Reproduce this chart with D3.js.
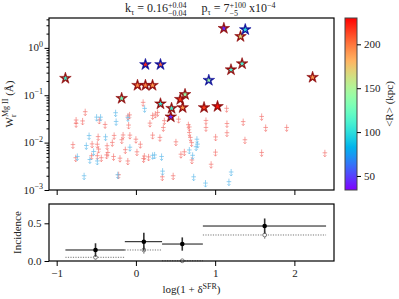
<!DOCTYPE html>
<html>
<head>
<meta charset="utf-8">
<script src="https://cdn.jsdelivr.net/npm/d3@7"></script>
<style>
  body { margin: 0; background: #fff; }
  text { font-family: "Liberation Serif", "DejaVu Serif", serif; fill: #222; white-space: pre; }
</style>
</head>
<body>
<svg id="chart" width="399" height="299"></svg>
<script>
"use strict";

// detections : log(1+delta_SFR), W_r (A), <R> (kpc), edge colour
var starX = [-0.89, -0.18, 0.02, 0.12, 0.21, 0.31, 0.45, 0.44, 0.59, 0.56, 0.62, 0.86, 1.03, 1.11, 1.32, 1.20, 1.34, 2.23, 0.12, 0.31, 1.38, 0.92];
var starW = [0.228, 0.086, 0.162, 0.162, 0.162, 0.066, 0.053, 0.035, 0.055, 0.082, 0.104, 0.055, 0.058, 2.58, 1.74, 0.345, 0.463, 0.239, 0.445, 0.445, 2.43, 0.207];
var starR = [110, 125, 195, 195, 190, 105, 110, 45, 190, 215, 140, 215, 225, 45, 165, 110, 110, 190, 220, 205, 100, 145];
var starEdge = ["r","r","r","r","r","r","r","r","r","r","r","r","r","r","r","r","r","r","b","b","b","b"];

// upper limits
var limRedX = [-0.64, -0.755, -0.755, -0.673, -0.462, -0.389, -0.08, -0.092, 0.091, -0.477, -0.275, -0.162, -0.076, -0.795, -0.553, -0.487, -0.364, -0.298, -0.178, -0.134, 0.0, 0.056, 0.013, -0.471, -0.354, -0.759, -0.559, -0.487, -0.437, -0.37, -0.282, -0.201, -0.102, 0.097, -0.218, 0.211, 0.245, 0.274, 0.177, 0.359, 0.346, 0.539, 0.662, 0.674, 0.884, 0.884, 1.149, 1.149, 0.211, 0.303, 0.505, 0.674, 0.687, 0.703, 1.006, 0.106, 0.16, 0.568, 0.611, 0.707, 0.949, 0.333, 0.47, 1.354, 1.587, 1.638, 1.903, 1.376, 1.004, 1.587, 2.385, 1.145, -0.10];
var limRedW = [0.045, 0.030, 0.0254, 0.0287, 0.030, 0.0242, 0.0385, 0.0235, 0.0708, 0.0134, 0.0142, 0.0145, 0.0144, 0.0091, 0.0094, 0.00925, 0.0086, 0.0101, 0.0115, 0.0071, 0.0118, 0.00925, 0.0064, 0.0073, 0.0062, 0.0048, 0.0053, 0.0053, 0.0048, 0.0055, 0.0051, 0.0047, 0.0041, 0.0046, 0.0021, 0.0375, 0.040, 0.0434, 0.0258, 0.0291, 0.0209, 0.0313, 0.0239, 0.0214, 0.0294, 0.0209, 0.0253, 0.0162, 0.0144, 0.0129, 0.0104, 0.0164, 0.0129, 0.0100, 0.0132, 0.0052, 0.0050, 0.0057, 0.0064, 0.0043, 0.0035, 0.0019, 0.0020, 0.0278, 0.0357, 0.0209, 0.0209, 0.0115, 0.0063, 0.0062, 0.0061, 0.053, 0.0365];
var limBlueX = [-0.496, -0.446, -0.256, -0.25, -0.101, 0.11, -0.591, -0.383, -0.626, -0.076, -0.534, -0.739, -0.581, -0.487, -0.654, -0.229, 0.211, 0.236, 0.324, 0.337, 0.729, 0.878, 1.174, 1.202, 0.77, 0.779, 0.76, 0.674, 0.716];
var limBlueW = [0.0345, 0.0345, 0.0428, 0.028, 0.034, 0.0528, 0.0141, 0.0133, 0.0087, 0.0080, 0.0065, 0.0051, 0.0044, 0.0041, 0.0020, 0.0021, 0.0054, 0.0055, 0.0051, 0.0025, 0.0019, 0.0014, 0.0015, 0.0024, 0.0118, 0.0093, 0.0082, 0.0070, 0.0054];

// incidence per bin
var binLo = [-0.89, -0.14, 0.33, 0.845];
var binHi = [-0.14, 0.33, 0.845, 2.40];
var binMid = [-0.51, 0.10, 0.585, 1.625];
var incAll = [0.146, 0.256, 0.225, 0.464];
var errAll = [0.089, 0.12, 0.088, 0.10];
var incSub = [0.049, 0.146, 0.003, 0.345];
var errSub = [0.03, 0.05, 0.01, 0.05];

var xTicks = [-1, 0, 1, 2];
var yTicks = [1e-3, 1e-2, 1e-1, 1];
var cTicks = [50, 100, 150, 200];
var incTicks = [0.0, 0.5];

var svg = d3.select("#chart");
var L = 49, R = 334, T = 18, B = 190, T2 = 204, B2 = 261;
var CL = 345, CR = 357;

var x = d3.scaleLinear().domain([-1.097, 2.5]).range([L, R]);
var y = d3.scaleLog().domain([1e-3, 4.27]).range([B, T]);
var y2 = d3.scaleLinear().domain([0, 0.756]).range([B2, T2]);
var cDom = [34, 230];
var cy = d3.scaleLinear().domain(cDom).range([B, T]);

// matplotlib "rainbow"
function rainbow(t) {
  t = Math.max(0, Math.min(1, t));
  var r = Math.min(1, Math.abs(2 * t - 0.5)), g = Math.sin(Math.PI * t), b = Math.cos(Math.PI * t / 2);
  return d3.rgb(r * 255, g * 255, b * 255).toString();
}
function cmap(v) { return rainbow((v - cDom[0]) / (cDom[1] - cDom[0])); }

// text with sub/superscripts
function rich(parent, parts, anchor, size) {
  size = size || 11;
  var g = parent.append("g");
  var cx = 0;
  parts.forEach(function (p) {
    if (p.stack) {
      var a = g.append("text").attr("x", cx).attr("y", p.up).style("font-size", p.s + "px").text(p.stack[0]);
      var b = g.append("text").attr("x", cx).attr("y", p.dn).style("font-size", p.s + "px").text(p.stack[1]);
      cx += Math.max(a.node().getComputedTextLength(), b.node().getComputedTextLength());
    } else {
      var t = g.append("text").attr("x", cx).attr("y", p.dy || 0).style("font-size", (p.s || size) + "px").text(p.t);
      cx += t.node().getComputedTextLength();
    }
  });
  var off = anchor === "end" ? -cx : anchor === "middle" ? -cx / 2 : 0;
  g.selectAll("text").attr("x", function () { return +d3.select(this).attr("x") + off; });
  return g;
}

function styleAxis(g) {
  g.select(".domain").remove();
  g.selectAll(".tick line").attr("stroke", "#000").attr("stroke-width", 1);
  g.selectAll(".tick text").style("font-size", "11px").attr("fill", "#222");
}

// ---- top panel
var minors = [];
[1e-3, 1e-2, 1e-1, 1].forEach(function (d) {
  for (var k = 2; k <= 9; k++) if (d * k < 4.27) minors.push(d * k);
});
svg.append("g").attr("transform", "translate(" + L + ",0)")
  .call(d3.axisLeft(y).tickValues(minors).tickSize(2.5).tickFormat(""))
  .call(styleAxis);
svg.append("g").attr("transform", "translate(" + L + ",0)")
  .call(d3.axisLeft(y).tickValues(yTicks).tickSize(4.5).tickFormat(""))
  .call(styleAxis);
yTicks.forEach(function (d) {
  var e = Math.round(Math.log10(d));
  rich(svg, [{ t: "10" }, { t: e < 0 ? "\u2212" + (-e) : String(e), s: 8, dy: -4.5 }], "end")
    .attr("transform", "translate(" + (L - 6) + "," + (y(d) + 3.5) + ")");
});
svg.append("g").attr("transform", "translate(0," + B + ")")
  .call(d3.axisBottom(x).tickValues(xTicks).tickSize(5).tickFormat(""))
  .call(styleAxis);

// upper limits
function limPath(px, py) {
  return "M" + (px - 2.3) + "," + py + "H" + (px + 2.3) +
    "M" + px + "," + (py - 3) + "V" + (py + 4) +
    "M" + (px - 1.5) + "," + (py + 2.4) + "L" + px + "," + (py + 4) + "L" + (px + 1.5) + "," + (py + 2.4);
}
var lims = svg.append("g").attr("fill", "none").attr("stroke-width", 1);
lims.selectAll("path.red").data(d3.range(limRedX.length)).enter().append("path")
  .attr("class", "red")
  .attr("d", function (i) { return limPath(x(limRedX[i]), y(limRedW[i])); })
  .attr("stroke", "#f47a76").attr("stroke-opacity", 0.7);
lims.selectAll("path.blue").data(d3.range(limBlueX.length)).enter().append("path")
  .attr("class", "blue")
  .attr("d", function (i) { return limPath(x(limBlueX[i]), y(limBlueW[i])); })
  .attr("stroke", "#72c2ec").attr("stroke-opacity", 0.75);

// detections: dark outer star with a small coloured star inside
var outer = d3.symbol().type(d3.symbolStar).size(42);
var inner = d3.symbol().type(d3.symbolStar).size(9);
var order = d3.range(starX.length).sort(function (a, b) {
  return (starEdge[a] === "b") - (starEdge[b] === "b");
});
var stars = svg.append("g").selectAll("g").data(order).enter().append("g")
  .attr("transform", function (i) { return "translate(" + x(starX[i]) + "," + y(starW[i]) + ")"; });
stars.append("path").attr("d", outer)
  .attr("fill", function (i) { return starEdge[i] === "b" ? "#0c0c98" : "#900c0c"; })
  .attr("stroke", function (i) { return starEdge[i] === "b" ? "#0c0c98" : "#900c0c"; })
  .attr("stroke-width", 0.6);
stars.append("path").attr("d", inner)
  .attr("fill", function (i) { return cmap(starR[i]); });

svg.append("rect").attr("x", L).attr("y", T).attr("width", R - L).attr("height", B - T)
  .attr("fill", "none").attr("stroke", "#000").attr("stroke-width", 1.2);

// ---- bottom panel
svg.append("g").attr("transform", "translate(" + L + ",0)")
  .call(d3.axisLeft(y2).tickValues(incTicks).tickSize(4.5).tickFormat(d3.format(".1f")))
  .call(styleAxis);
svg.append("g").attr("transform", "translate(0," + B2 + ")")
  .call(d3.axisBottom(x).tickValues(xTicks).tickSize(5).tickPadding(3)
    .tickFormat(function (d) { return d < 0 ? "\u2212" + (-d) : String(d); }))
  .call(styleAxis);

var inc = svg.append("g");
d3.range(binLo.length).forEach(function (i) {
  inc.append("line").attr("x1", x(binLo[i])).attr("x2", x(binHi[i]))
    .attr("y1", y2(incSub[i])).attr("y2", y2(incSub[i]))
    .attr("stroke", "#777").attr("stroke-width", 1).attr("stroke-dasharray", "1.2,1.3");
  inc.append("line").attr("x1", x(binMid[i])).attr("x2", x(binMid[i]))
    .attr("y1", y2(Math.max(0, incSub[i] - errSub[i]))).attr("y2", y2(incSub[i] + errSub[i]))
    .attr("stroke", "#999").attr("stroke-width", 1.3);
  inc.append("circle").attr("cx", x(binMid[i])).attr("cy", y2(incSub[i])).attr("r", 1.9)
    .attr("fill", "#fff").attr("stroke", "#777").attr("stroke-width", 1);
});
d3.range(binLo.length).forEach(function (i) {
  inc.append("line").attr("x1", x(binLo[i])).attr("x2", x(binHi[i]))
    .attr("y1", y2(incAll[i])).attr("y2", y2(incAll[i]))
    .attr("stroke", "#111").attr("stroke-width", 1);
  inc.append("line").attr("x1", x(binMid[i])).attr("x2", x(binMid[i]))
    .attr("y1", y2(incAll[i] - errAll[i])).attr("y2", y2(incAll[i] + errAll[i]))
    .attr("stroke", "#333").attr("stroke-width", 1.6);
  inc.append("circle").attr("cx", x(binMid[i])).attr("cy", y2(incAll[i])).attr("r", 2.3)
    .attr("fill", "#000");
});

svg.append("rect").attr("x", L).attr("y", T2).attr("width", R - L).attr("height", B2 - T2)
  .attr("fill", "none").attr("stroke", "#000").attr("stroke-width", 1.2);

// ---- colour bar
var grad = svg.append("defs").append("linearGradient").attr("id", "cbar")
  .attr("x1", 0).attr("y1", 1).attr("x2", 0).attr("y2", 0);
d3.range(0, 1.0001, 0.05).forEach(function (t) {
  grad.append("stop").attr("offset", t).attr("stop-color", rainbow(t));
});
svg.append("rect").attr("x", CL).attr("y", T).attr("width", CR - CL).attr("height", B - T)
  .attr("fill", "url(#cbar)").attr("stroke", "#444").attr("stroke-width", 1);
svg.append("g").attr("transform", "translate(" + CR + ",0)")
  .call(d3.axisRight(cy).tickValues(cTicks).tickSize(4).tickPadding(3))
  .call(styleAxis);

// ---- labels
rich(svg, [{ t: "k" }, { t: "\u03c4", s: 8, dy: 3 }, { t: " = 0.16" },
  { stack: ["+0.04", "\u22120.04"], s: 8, up: -4, dn: 3.5 },
  { t: "     p" }, { t: "\u03c4", s: 8, dy: 3 }, { t: " = 7" },
  { stack: ["+100", "\u22125"], s: 8, up: -4, dn: 3.5 },
  { t: " x10" }, { t: "\u22124", s: 8, dy: -4 }], "start", 12)
  .attr("transform", "translate(125,12)");

rich(svg, [{ t: "W" }, { stack: ["Mg II", "r"], s: 8, up: -5, dn: 3 }, { t: " (\u00c5)" }], "middle")
  .attr("transform", "translate(12.5,104) rotate(-90)");

rich(svg, [{ t: "log(1 + \u03b4" }, { t: "SFR", s: 8, dy: -4.5 }, { t: ")" }], "middle")
  .attr("transform", "translate(" + ((L + R) / 2) + ",293)");

rich(svg, [{ t: "Incidence" }], "middle")
  .attr("transform", "translate(20.5," + ((T2 + B2) / 2) + ") rotate(-90)");

rich(svg, [{ t: "<R> (kpc)" }], "middle")
  .attr("transform", "translate(393,104) rotate(-90)");
</script>
</body>
</html>
